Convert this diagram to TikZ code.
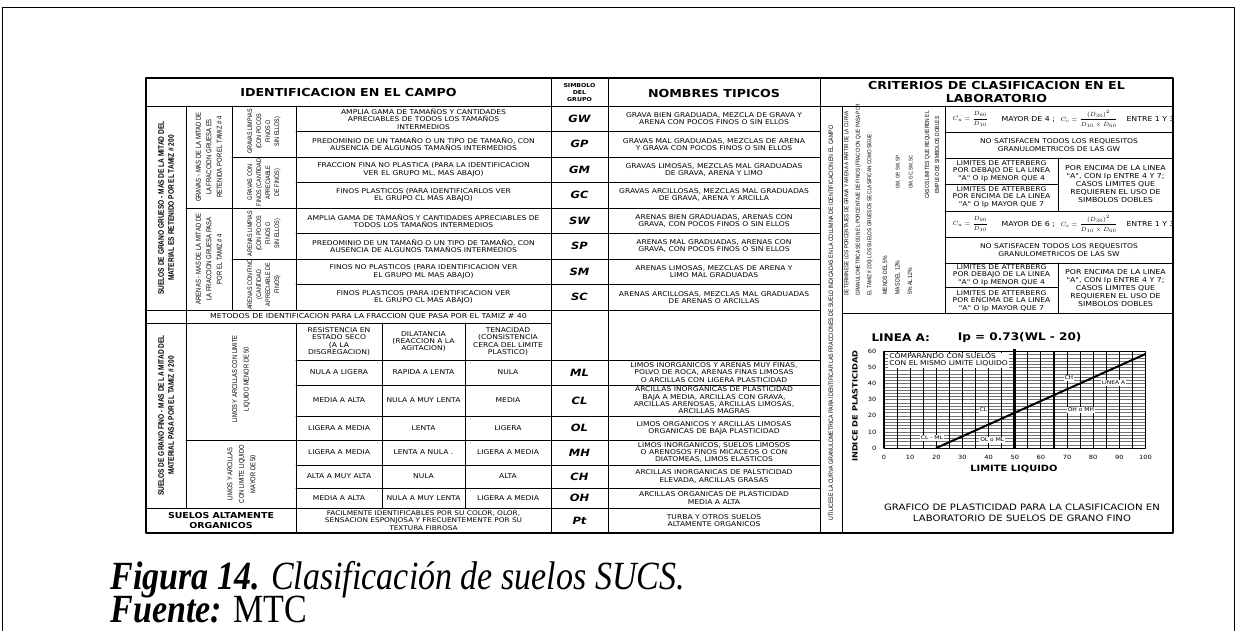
\documentclass[tikz,border=0pt]{standalone}
\usepackage{fontspec}
\usepackage{amsmath}
\newfontfamily\verd[FakeStretch=1.15, BoldFont={DejaVu Sans Bold}, ItalicFont={DejaVu Sans Oblique}, BoldItalicFont={DejaVu Sans Bold Oblique}]{DejaVu Sans}
\newfontfamily\narw[FakeStretch=0.82]{Liberation Sans}
\newfontfamily\tnr[FakeStretch=0.85]{Liberation Serif}
\begin{document}
\begin{tikzpicture}[x=1pt, y=-1pt, line join=round, line cap=round, line width=1pt,
	tx/.style={font=\verd\fontsize{6.8}{8}\selectfont, align=center, inner sep=0pt},
	tz/.style={tx, font=\verd\fontsize{6.6}{7.3}\selectfont},
	sym/.style={font=\verd\bfseries\itshape\fontsize{10}{12}\selectfont, inner sep=0pt},
	hd/.style={font=\verd\bfseries\fontsize{11}{12.5}\selectfont, align=center, inner sep=0pt},
	vb/.style={rotate=90, font=\narw\bfseries\fontsize{8}{10}\selectfont, align=center, inner sep=0pt},
	vt/.style={rotate=90, font=\narw\fontsize{7.2}{10.5}\selectfont, align=center, inner sep=0pt},
	vs/.style={rotate=90, font=\narw\fontsize{6.6}{9}\selectfont, align=center, inner sep=0pt},
	vd/.style={rotate=90, font=\narw\fontsize{5.8}{11.5}\selectfont, inner sep=0pt},
	fm/.style={font=\fontsize{6.5}{7}\selectfont, inner sep=0pt, anchor=west},
	ax/.style={font=\verd\fontsize{5.8}{7}\selectfont, inner sep=0pt},
	zl/.style={font=\verd\fontsize{5.2}{6}\selectfont, fill=white, inner sep=1pt}]
	\useasboundingbox (0,0) rectangle (1237,630);
	\draw[line width=1.8pt] (2.5,640)--(2.5,7.5)--(1234.5,7.5)--(1234.5,640);
	% tabla
	\draw[line width=1.4pt] (146,78) rectangle (1173,533);
	\draw (146,106)--(1173,106);
	\foreach \x in {551,608,820}\draw (\x,78)--(\x,533);
	\draw (842,106)--(842,533) (186,106)--(186,508) (232,106)--(232,310);
	\draw (296,106)--(296,310) (296,323)--(296,533);
	\foreach \x in {382,465}\draw (\x,323)--(\x,508);
	\draw (945,106)--(945,313) (1058,158)--(1058,211) (1058,263)--(1058,313);
	\foreach \i in {1,3,5,7}\draw (296,{106+25.5*\i})--(820,{106+25.5*\i});
	\draw (232,157)--(820,157) (232,259)--(820,259) (186,208)--(820,208);
	\draw (146,310)--(820,310) (146,323)--(551,323) (296,360)--(820,360);
	\foreach \y in {385,416,465,488}\draw (296,\y)--(820,\y);
	\draw (186,440)--(820,440) (146,508)--(820,508);
	\foreach \y in {132,158,211,237,263}\draw (945,\y)--(1173,\y);
	\draw (945,184)--(1058,184) (945,287)--(1058,287) (842,313)--(1173,313);
	% encabezados
	\node[hd] (idc) at (348.5,92) {IDENTIFICACION EN EL CAMPO};
	\node[font=\verd\bfseries\fontsize{5.4}{7}\selectfont, align=center, inner sep=0pt] (sgr) at (579.5,93) {SIMBOLO\\DEL\\GRUPO};
	\node[hd] (ntp) at (714,93) {NOMBRES TIPICOS};
	\node[hd] (ccl) at (996.5,92) {CRITERIOS DE CLASIFICACION EN EL\\LABORATORIO};
	% suelos gruesos
	\node[vb] (sgg) at (166,208) {SUELOS DE GRANO GRUESO - MAS DE LA MITAD DEL\\MATERIAL ES RETENIDO POR EL TAMIZ \# 200};
	\node[vt] (grv) at (209,157) {GRAVAS - MAS DE LA MITAD DE\\LA FRACCION GRUESA ES\\RETENIDA POR EL TAMIZ \# 4};
	\node[vt] (are) at (209,259) {ARENAS - MAS DE LA MITAD DE\\LA FRACCION GRUESA PASA\\POR EL TAMIZ \# 4};
	\node[vs] (gl) at (264,131.5) {GRAVAS LIMPIAS\\(CON POCOS\\FINOS O\\SIN ELLOS)};
	\node[vs] (gf) at (264,182.5) {GRAVAS CON\\FINOS (CANTIDAD\\APRECIABLE\\DE FINOS)};
	\node[vs] (al) at (264,233.5) {ARENAS LIMPIAS\\(CON POCOS\\FINOS O\\SIN ELLOS)};
	\node[vs] (af) at (264,284.5) {ARENAS CON FINO\\(CANTIDAD\\APRECIABLE DE\\FINOS)};
	\foreach \t [count=\i] in {{AMPLIA GAMA DE TAMAÑOS Y CANTIDADES\\APRECIABLES DE TODOS LOS TAMAÑOS\\INTERMEDIOS},
		{PREDOMINIO DE UN TAMAÑO O UN TIPO DE TAMAÑO, CON\\AUSENCIA DE ALGUNOS TAMAÑOS INTERMEDIOS},
		{FRACCION FINA NO PLASTICA (PARA LA IDENTIFICACION\\VER EL GRUPO ML, MAS ABAJO)},
		{FINOS PLASTICOS (PARA IDENTIFICARLOS VER\\EL GRUPO CL MAS ABAJO)},
		{AMPLIA GAMA DE TAMAÑOS Y CANTIDADES APRECIABLES DE\\TODOS LOS TAMAÑOS INTERMEDIOS},
		{PREDOMINIO DE UN TAMAÑO O UN TIPO DE TAMAÑO, CON\\AUSENCIA DE ALGUNOS TAMAÑOS INTERMEDIOS},
		{FINOS NO PLASTICOS (PARA IDENTIFICACION VER\\EL GRUPO ML MAS ABAJO)},
		{FINOS PLASTICOS (PARA IDENTIFICACION VER\\EL GRUPO CL MAS ABAJO)}}
		\node[tz] (ic\i) at (423.5,{106+25.5*(\i-0.5)}) {\t};
	\foreach \s [count=\i] in {GW,GP,GM,GC,SW,SP,SM,SC}
		\node[sym] (\s) at (579.5,{106+25.5*(\i-0.5)}) {\s};
	\foreach \t [count=\i] in {{GRAVA BIEN GRADUADA, MEZCLA DE GRAVA Y\\ARENA CON POCOS FINOS O SIN ELLOS},
		{GRAVAS MAL GRADUADAS, MEZCLAS DE ARENA\\Y GRAVA CON POCOS FINOS O SIN ELLOS},
		{GRAVAS LIMOSAS, MEZCLAS MAL GRADUADAS\\DE GRAVA, ARENA Y LIMO},
		{GRAVAS ARCILLOSAS, MEZCLAS MAL GRADUADAS\\DE GRAVA, ARENA Y ARCILLA},
		{ARENAS BIEN GRADUADAS, ARENAS CON\\GRAVA, CON POCOS FINOS O SIN ELLOS},
		{ARENAS MAL GRADUADAS, ARENAS CON\\GRAVA, CON POCOS FINOS O SIN ELLOS},
		{ARENAS LIMOSAS, MEZCLAS DE ARENA Y\\LIMO MAL GRADUADAS},
		{ARENAS ARCILLOSAS, MEZCLAS MAL GRADUADAS\\DE ARENAS O ARCILLAS}}
		\node[tz] (nt\i) at (714,{106+25.5*(\i-0.5)}) {\t};
	\node[tx] (met) at (368.5,316.5) {METODOS DE IDENTIFICACION PARA LA FRACCION QUE PASA POR EL TAMIZ \# 40};
	% suelos finos
	\node[vb] (sgf) at (166,415.5) {SUELOS DE GRANO FINO - MAS DE LA MITAD DEL\\MATERIAL PASA POR EL TAMIZ \# 200};
	\node[vt, font=\narw\fontsize{7}{11.5}\selectfont] (lm1) at (241,379) {LIMOS Y ARCILLAS CON LIMITE\\LIQUIDO MENOR DE 50};
	\node[vt, font=\narw\fontsize{7}{11.5}\selectfont] (lm2) at (241.5,474) {LIMOS Y ARCILLAS\\CON LIMITE LIQUIDO\\MAYOR DE 50};
	\node[tz] (res) at (339,341.5) {RESISTENCIA EN\\ESTADO SECO\\(A LA\\DISGREGACION)};
	\node[tz] (dil) at (423.5,341.5) {DILATANCIA\\(REACCION A LA\\AGITACION)};
	\node[tz] (ten) at (508,341.5) {TENACIDAD\\(CONSISTENCIA\\CERCA DEL LIMITE\\PLASTICO)};
	\foreach \y/\a/\b/\c/\s in {372.5/NULA A LIGERA/RAPIDA A LENTA/NULA/ML, 400.5/MEDIA A ALTA/NULA A MUY LENTA/MEDIA/CL,
		428/LIGERA A MEDIA/LENTA/LIGERA/OL, 452.5/LIGERA A MEDIA/LENTA A NULA ./LIGERA A MEDIA/MH,
		476.5/ALTA A MUY ALTA/NULA/ALTA/CH, 498/MEDIA A ALTA/NULA A MUY LENTA/LIGERA A MEDIA/OH}{
		\node[tz] (r\s) at (339,\y) {\a};
		\node[tz] (d\s) at (423.5,\y) {\b};
		\node[tz] (t\s) at (508,\y) {\c};
		\node[sym] (\s) at (579.5,\y) {\s};}
	\foreach \y/\t [count=\i] in {372.5/{LIMOS INORGANICOS Y ARENAS MUY FINAS,\\POLVO DE ROCA, ARENAS FINAS LIMOSAS\\O ARCILLAS CON LIGERA PLASTICIDAD},
		400.5/{ARCILLAS INORGANICAS DE PLASTICIDAD\\BAJA A MEDIA, ARCILLAS CON GRAVA,\\ARCILLAS ARENOSAS, ARCILLAS LIMOSAS,\\ARCILLAS MAGRAS},
		428/{LIMOS ORGANICOS Y ARCILLAS LIMOSAS\\ORGANICAS DE BAJA PLASTICIDAD},
		452.5/{LIMOS INORGANICOS, SUELOS LIMOSOS\\O ARENOSOS FINOS MICACEOS O CON\\DIATOMEAS, LIMOS ELASTICOS},
		476.5/{ARCILLAS INORGANICAS DE PALSTICIDAD\\ELEVADA, ARCILLAS GRASAS},
		498/{ARCILLAS ORGANICAS DE PLASTICIDAD\\MEDIA A ALTA}}
		\node[tz] (nf\i) at (714,\y) {\t};
	\node[font=\verd\bfseries\fontsize{8.2}{10}\selectfont, align=center, inner sep=0pt] (sao) at (221,520.5) {SUELOS ALTAMENTE\\ORGANICOS};
	\node[tz, font=\verd\fontsize{6.4}{7.2}\selectfont] (fac) at (423.5,520.5) {FACILMENTE IDENTIFICABLES POR SU COLOR, OLOR,\\SENSACION ESPONJOSA Y FRECUENTEMENTE POR SU\\TEXTURA FIBROSA};
	\node[sym] (Pt) at (579.5,520.5) {Pt};
	\node[tz] (npt) at (714,520.5) {TURBA Y OTROS SUELOS\\ALTAMENTE ORGANICOS};
	% criterios
	\node[vd, font=\narw\fontsize{6.4}{8}\selectfont] (uti) at (831,323) {UTILICESE LA CURVA GRANULOMETRICA PARA IDENTIFICAR LAS FRACCIONES DE SUELO INDICADAS EN LA COLUMNA DE IDENTIFICACION EN EL CAMPO};
	\node[vd, align=left, anchor=west] (det) at (858.5,296) {DETERMINESE LOS PORCENTAJES DE GRAVA Y ARENA A PARTIR DE LA CURVA\\GRANULOMETRICA SEGÚN EL PORCENTAJE DE FINOS (FRACCION QUE PASA POR\\EL TAMIZ \# 200) LOS SUELOS GRUESOS SE CLASIFICAN COMO SIGUE:};
	\node[vd, align=left, anchor=west, font=\narw\fontsize{6.2}{12.5}\selectfont] (pct) at (897.5,295) {MENOS DEL 5\%\\MAS DEL 12\%\\5\% AL 12\%};
	\node[vd, align=center, font=\narw\fontsize{5.4}{13}\selectfont] (grp) at (904.5,172) {GW, GP, SW, SP\\GM, GC, SM, SC};
	\node[vd, align=center, font=\narw\fontsize{6}{10}\selectfont] (cld) at (932,155) {CASOS LIMITES QUE REQUIEREN EL\\EMPLEO DE SIMBOLOS DOBLES};
	\begin{scope}
		\clip (945,106) rectangle (1173,237);
		\foreach \y/\m in {119/4,224/6}{
			\node[fm] (cu\m) at (952,\y) {$C_u=\dfrac{D_{60}}{D_{10}}$};
			\node[tx, anchor=west] (my\m) at (1001,\y) {MAYOR DE \m\ ;};
			\node[fm] (cc\m) at (1060,\y) {$C_c=\dfrac{(D_{30})^2}{D_{10}\times D_{60}}$};
			\node[tx, anchor=west] (en\m) at (1126,\y) {ENTRE 1 Y 3};}
	\end{scope}
	\node[tz] (ngw) at (1059,145) {NO SATISFACEN TODOS LOS REQUESITOS\\GRANULOMETRICOS DE LAS GW};
	\node[tz] (nsw) at (1059,250) {NO SATISFACEN TODOS LOS REQUESITOS\\GRANULOMETRICOS DE LAS SW};
	\foreach \y/\n in {171/1,275/3}{
		\node[tz] (ld\n) at (1001.5,\y) {LIMITES DE ATTERBERG\\POR DEBAJO DE LA LINEA\\"A" O Ip MENOR QUE 4};
		\node[tz] (le\n) at (1001.5,{\y+26}) {LIMITES DE ATTERBERG\\POR ENCIMA DE LA LINEA\\"A" O Ip MAYOR QUE 7};
		\node[tx] (pe\n) at (1115.5,{\y+13}) {POR ENCIMA DE LA LINEA\\"A", CON Ip ENTRE 4 Y 7;\\CASOS LIMITES QUE\\REQUIEREN EL USO DE\\SIMBOLOS DOBLES};}
	% grafico de plasticidad
	\node[font=\verd\bfseries\fontsize{10.5}{12}\selectfont, inner sep=0pt, anchor=west] (lna) at (871,338) {LINEA A:};
	\node[font=\verd\bfseries\fontsize{10.5}{12}\selectfont, inner sep=0pt, anchor=east] (ipf) at (1082,338) {Ip = 0.73(WL - 20)};
	\begin{scope}[shift={(884,448)}, x=2.615pt, y=1.61pt]
		\foreach \p in {0,2,...,60}\draw[line width=0.5pt, black!55] (0,\p)--(100,\p);
		\foreach \w in {0,5,...,100}\draw[line width=1.1pt] (\w,0)--(\w,60);
		\draw[line width=0.8pt] (0,0) rectangle (100,60);
		\draw[line width=2.6pt, line cap=butt] (50,0)--(50,61.5);
		\draw[line width=2pt] (20,0)--(100,58.4);
		\foreach \p in {0,10,...,60}\node[ax, anchor=east] (y\p) at (-2.7,\p) {\p};
		\foreach \w in {0,10,...,100}\node[ax] (x\w) at (\w,-5.6) {\w};
		\node[zl, font=\verd\fontsize{6.6}{7.3}\selectfont, align=left, anchor=north west] (zcp) at (1.5,59.6) {COMPARANDO CON SUELOS\\CON EL MISMO LIMITE LIQUIDO};
		\node[zl] (zch) at (70.7,43.5) {CH};
		\node[zl] (zla) at (87.8,40.4) {LINEA A};
		\node[zl] (zcl) at (38,23.6) {CL};
		\node[zl] (zoh) at (75.3,23.6) {OH o MH};
		\node[zl] (zcm) at (18.3,6.2) {CL - ML};
		\node[zl] (zol) at (41.4,5) {OL o ML};
	\end{scope}
	\node[rotate=90, font=\verd\bfseries\fontsize{7.2}{8}\selectfont, inner sep=0pt] (idp) at (855,406) {INDICE DE PLASTICIDAD};
	\node[font=\verd\bfseries\fontsize{8.6}{10}\selectfont, inner sep=0pt] (lql) at (1014,468.5) {LIMITE LIQUIDO};
	\node[font=\verd\fontsize{8.8}{11}\selectfont, align=center, inner sep=0pt] (gpc) at (1022,513) {GRAFICO DE PLASTICIDAD PARA LA CLASIFICACION EN\\LABORATORIO DE SUELOS DE GRANO FINO};
	% leyenda
	\node[font=\tnr\fontsize{40}{42}\selectfont, anchor=base west, inner sep=0pt] (fig) at (110,589) {\textbf{\textit{Figura 14.}} \textit{Clasificación de suelos SUCS.}};
	\node[font=\tnr\fontsize{40}{42}\selectfont, anchor=base west, inner sep=0pt] (fte) at (110,622) {\textbf{\textit{Fuente:}} MTC};
\end{tikzpicture}
\end{document}
